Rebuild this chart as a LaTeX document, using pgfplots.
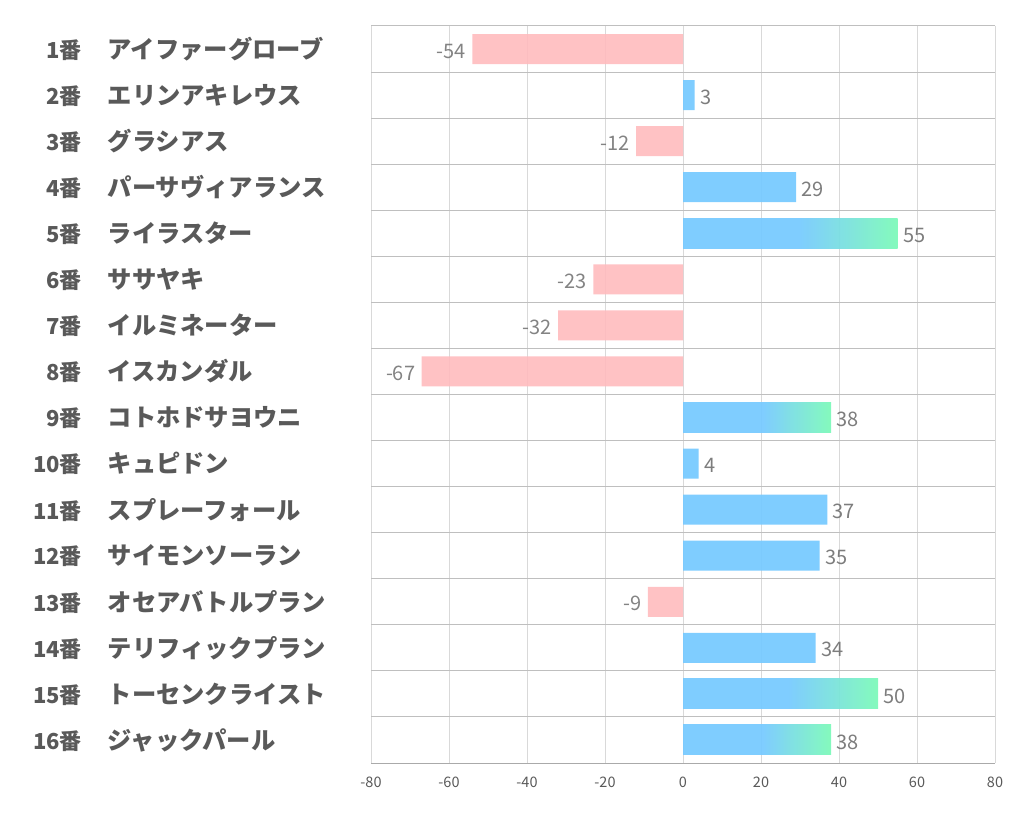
\documentclass[border=0pt]{standalone}
\usepackage{fontspec}
\setmainfont{Noto Sans CJK JP}
\usepackage{pgfplots}
\pgfplotsset{compat=1.18}
\definecolor{pinkbar}{RGB}{255,187,190}
\definecolor{bluebar}{RGB}{120,202,255}
\definecolor{greenbar}{RGB}{125,250,185}
\definecolor{txt}{RGB}{89,89,89}
\definecolor{val}{RGB}{118,118,118}
\definecolor{gridv}{RGB}{217,217,217}
\definecolor{gridh}{RGB}{191,191,191}
\definecolor{axisc}{RGB}{170,170,170}
\pgfdeclarehorizontalshading{bargrad}{100bp}{color(0bp)=(bluebar); color(25bp)=(bluebar); color(52bp)=(bluebar); color(75bp)=(greenbar); color(100bp)=(greenbar)}
\newcommand{\lab}[2]{\makebox[50pt][r]{\fontsize{22}{24}\selectfont #1}\hspace{26pt}\makebox[263pt][l]{#2}}
\begin{document}
\begin{tikzpicture}
\useasboundingbox (0,0) rectangle (1022pt,834pt);
\begin{axis}[
  at={(371pt,71pt)}, anchor=south west,
  scale only axis, width=624pt, height=737pt,
  xmin=-80, xmax=80, ymin=0.5, ymax=16.5, y dir=reverse,
  xtick={-80,-60,...,80}, ytick={1,...,16},
  minor ytick={0.5,1.5,...,15.5},
  xmajorgrids, yminorgrids,
  major grid style={draw=gridv, line width=0.8pt},
  minor grid style={draw=gridh, line width=1pt},
  axis line style={draw=none},
  major tick length=0pt, minor tick length=0pt,
  /pgf/number format/assume math mode=true,
  xticklabel style={font=\fontsize{14.5}{16}\selectfont, text=txt, yshift=-10pt},
  yticklabel style={font=\fontsize{24.3}{26}\selectfont\bfseries, text=txt, anchor=east, inner sep=0pt, xshift=0pt},
  yticklabels={
    {\lab{1番}{アイファーグローブ}},
    {\lab{2番}{エリンアキレウス}},
    {\lab{3番}{グラシアス}},
    {\lab{4番}{パーサヴィアランス}},
    {\lab{5番}{ライラスター}},
    {\lab{6番}{ササヤキ}},
    {\lab{7番}{イルミネーター}},
    {\lab{8番}{イスカンダル}},
    {\lab{9番}{コトホドサヨウニ}},
    {\lab{10番}{キュピドン}},
    {\lab{11番}{スプレーフォール}},
    {\lab{12番}{サイモンソーラン}},
    {\lab{13番}{オセアバトルプラン}},
    {\lab{14番}{テリフィックプラン}},
    {\lab{15番}{トーセンクライスト}},
    {\lab{16番}{ジャックパール}}},
  xbar, bar width=30pt, bar shift=0pt,
  point meta=x,
  nodes near coords,
  nodes near coords style={font=\fontsize{20}{22}\selectfont, text=val, yshift=-2pt},
  clip=false,
]
\addplot[draw=none, fill=pinkbar, fill opacity=0.9, nodes near coords style={anchor=east, xshift=-3pt}]
  coordinates {(-54,1) (-12,3) (-23,6) (-32,7) (-67,8) (-9,13)};
\addplot[draw=none, fill=bluebar, fill opacity=0.95, nodes near coords style={anchor=west, xshift=2pt}]
  coordinates {(3,2) (29,4) (4,10) (37,11) (35,12) (34,14)};
\addplot[draw=none, shading=bargrad, shading angle=0, fill opacity=0.95, nodes near coords style={anchor=west, xshift=2pt}]
  coordinates {(55,5)};
\addplot[draw=none, shading=bargrad, shading angle=0, fill opacity=0.95, nodes near coords style={anchor=west, xshift=2pt}]
  coordinates {(38,9)};
\addplot[draw=none, shading=bargrad, shading angle=0, fill opacity=0.95, nodes near coords style={anchor=west, xshift=2pt}]
  coordinates {(50,15)};
\addplot[draw=none, shading=bargrad, shading angle=0, fill opacity=0.95, nodes near coords style={anchor=west, xshift=2pt}]
  coordinates {(38,16)};
\draw[axisc, line width=1pt] (axis cs:-80,16.5) -- (axis cs:80,16.5);
\end{axis}
\end{tikzpicture}
\end{document}
